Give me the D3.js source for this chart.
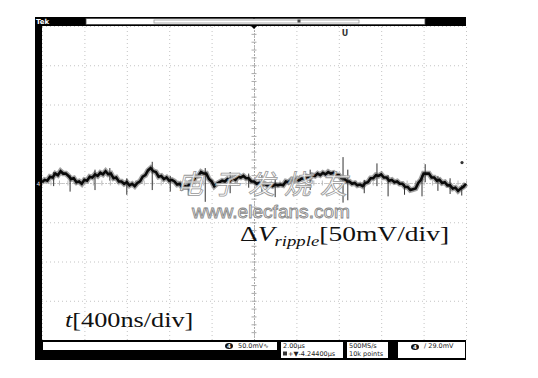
<!DOCTYPE html>
<html>
<head>
<meta charset="utf-8">
<script src="https://cdn.jsdelivr.net/npm/d3@7/dist/d3.min.js"></script>
<style>
body{margin:0;background:#fff;}
svg{display:block;}
</style>
</head>
<body>
<script>
// ripple trace in mV, one sample every 25 ns
const sampleStep = 25;
const rippleMv = [
   1,  4,  3,  8,  7, 12, 10, 15, 12, 12,
   9,  5,  6,  1,  2, -1,  4,  3,  8,  7,
  11,  9, 13, 11, 15, 11, 12,  6,  7,  2,
   2, -1,  1, -3, -1, -4,  0,  2,  8, 10,
  16, 19, 15, 14,  8,  9,  5,  7,  3,  4,
   2, -2, -1, -6, -4, -5,  1,  2,  8,  9,
  14, 12, 12,  5,  2, -4, -1,  1,  3,  2,
   5,  3,  6,  4,  8,  7,  9,  6,  6,  2,
   2, -1,  0, -2, -1, -3, -2, -4, -2, -3,
  -2, -3,  2,  1,  4,  3,  5,  3,  6,  5,
   8,  6, 10,  9, 12, 10, 13, 11, 14, 12,
  13, 10, 10,  6,  6,  2,  2, -1,  0, -3,
  -2, -4,  0,  1,  6,  6, 10,  9, 11,  7,
   7,  3,  4,  1,  2, -1, -1, -5, -5, -9,
  -8, -7,  0,  4, 12, 12, 12,  7,  7,  3,
   4,  0,  1, -3, -3, -7, -6,-10, -7, -5,
  -1
];

// noise spikes: time (ns), top and bottom (mV)
const spikeT  = [110, 265, 500, 640, 800, 1040, 1210, 1380, 1540, 1775, 1950, 2075, 2200, 2530, 2840, 2885, 3040, 3160, 3265, 3420, 3585, 3615, 3735, 3850, 3960];
const spikeHi = [ 14,  10,  17,  19,   6,   27,    9,    2,   19,   14,   12,   10,    6,   17,   33,   17,    4,   25,   10,   -1,   10,   24,    9,    6,   -3];
const spikeLo = [ -4, -11,  -9,   3, -15,   -9,  -11,  -16,  -24,  -13,   -6,  -14,  -18,   -9,  -25,  -22,  -13,   -4,  -17,  -15,  -17,    1,  -10,  -14,  -16];

// divisions: 400 ns/div, 50 mV/div
const timeDivs = [0, 400, 800, 1200, 1600, 2000, 2400, 2800, 3200, 3600, 4000];
const voltDivs = [-200, -150, -100, -50, 0, 50, 100, 150, 200];

const statusText = ["50.0mV", "2.00\u00b5s", "+\u25bc-4.24400\u00b5s", "500MS/s", "10k points", "29.0mV"];

let width = 538, height = 378;
let pLeft = 42, pRight = 466, pTop = 26, pBottom = 340;

let x = d3.scaleLinear().domain([0, 4000]).range([pLeft, pRight]);
let y = d3.scaleLinear().domain([-200, 200]).range([pBottom, pTop]);

const svg = d3.select("body")
        .append("svg")
        .attr("width", width)
        .attr("height", height);

svg.append("rect").attr("width", width).attr("height", height).attr("fill", "#fff");

// dotted graticule
svg.append("g")
        .attr("transform", `translate(0,${pBottom})`)
        .call(d3.axisBottom(x).tickValues(timeDivs).tickSize(-(pBottom - pTop)).tickFormat(""))
        .call(g => g.select(".domain").remove())
        .selectAll("line")
        .attr("stroke", "#c4c4c4")
        .attr("stroke-dasharray", "1,3");

svg.append("g")
        .attr("transform", `translate(${pLeft},0)`)
        .call(d3.axisLeft(y).tickValues(voltDivs).tickSize(-(pRight - pLeft)).tickFormat(""))
        .call(g => g.select(".domain").remove())
        .selectAll("line")
        .attr("stroke", "#c4c4c4")
        .attr("stroke-dasharray", "1,3");

// centre cross with minor ticks
let minorT = d3.range(0, 4001, 80), minorV = d3.range(-200, 201, 10);
[d3.axisLeft, d3.axisRight].forEach(ax => {
        svg.append("g")
                .attr("transform", `translate(${x(2000)},0)`)
                .call(ax(y).tickValues(minorV).tickSize(2.5).tickSizeOuter(0).tickFormat(""))
                .call(g => g.select(".domain").attr("stroke", "#999").attr("stroke-dasharray", "1,2"))
                .selectAll("line").attr("stroke", "#aaa");
});
[d3.axisTop, d3.axisBottom].forEach(ax => {
        svg.append("g")
                .attr("transform", `translate(0,${y(0)})`)
                .call(ax(x).tickValues(minorT).tickSize(2.5).tickSizeOuter(0).tickFormat(""))
                .call(g => g.select(".domain").attr("stroke", "#bbb").attr("stroke-dasharray", "1,2"))
                .selectAll("line").attr("stroke", "#bbb");
});

// trace
let line = d3.line()
        .x((d, i) => x(i * sampleStep))
        .y(d => y(d));

svg.append("path")
        .datum(rippleMv)
        .attr("d", line)
        .attr("fill", "none")
        .attr("stroke", "#666")
        .attr("stroke-opacity", 0.6)
        .attr("stroke-width", 5.5);

svg.selectAll(".spike")
        .data(spikeT)
        .enter()
        .append("line")
        .attr("class", "spike")
        .attr("x1", d => x(d)).attr("x2", d => x(d))
        .attr("y1", (d, i) => y(spikeHi[i]))
        .attr("y2", (d, i) => y(spikeLo[i]))
        .attr("stroke", "#333")
        .attr("stroke-width", 1);

svg.append("path")
        .datum(rippleMv)
        .attr("d", line)
        .attr("fill", "none")
        .attr("stroke", "#0a0a0a")
        .attr("stroke-width", 2.6);

// watermark
svg.append("text")
        .attr("x", 176).attr("y", 194)
        .style("font-family", "'Noto Sans CJK SC'")
        .style("font-size", "27px")
        .style("font-style", "italic")
        .attr("letter-spacing", 9)
        .attr("fill", "#fff")
        .attr("fill-opacity", 0.85)
        .attr("stroke", "#999")
        .attr("stroke-width", 0.8)
        .text("电子发烧友");

svg.append("text")
        .attr("x", 192).attr("y", 218)
        .attr("textLength", 158)
        .attr("lengthAdjust", "spacingAndGlyphs")
        .style("font-family", "'Liberation Sans'")
        .style("font-size", "19px")
        .attr("fill", "#fff")
        .attr("stroke", "#888")
        .attr("stroke-width", 0.9)
        .text("www.elecfans.com");

// annotations (picture is stretched sideways)
let vLabel = svg.append("text")
        .attr("transform", "translate(240,241) scale(1.25,1)")
        .style("font-family", "'Liberation Serif'")
        .attr("fill", "#111");
vLabel.append("tspan").style("font-size", "22px").text("\u0394");
vLabel.append("tspan").style("font-size", "22px").style("font-style", "italic").text("V");
vLabel.append("tspan").style("font-size", "15px").style("font-style", "italic").attr("dy", 5).text("ripple");
vLabel.append("tspan").style("font-size", "22px").attr("dy", -5).text("[50mV/div]");

let tLabel = svg.append("text")
        .attr("transform", "translate(65,327) scale(1.25,1)")
        .style("font-family", "'Liberation Serif'")
        .style("font-size", "21px")
        .attr("fill", "#111");
tLabel.append("tspan").style("font-style", "italic").text("t");
tLabel.append("tspan").text("[400ns/div]");

// scope frame
svg.append("rect").attr("x", 35).attr("y", 17).attr("width", pRight - 35).attr("height", pTop - 17).attr("fill", "#000");
svg.append("rect").attr("x", 35).attr("y", 17).attr("width", pLeft - 35).attr("height", 360 - 17).attr("fill", "#000");
svg.append("rect").attr("x", 35).attr("y", pBottom).attr("width", pRight - 35).attr("height", 20).attr("fill", "#000");

svg.append("text").attr("x", 36).attr("y", 24)
        .style("font-family", "'DejaVu Sans'").style("font-size", "7px").style("font-weight", "bold")
        .attr("fill", "#fff").text("Tek");

// record view bar
svg.append("rect").attr("x", 86).attr("y", 18.5).attr("width", 339).attr("height", 6)
        .attr("fill", "#fff").attr("stroke", "#444").attr("stroke-width", 0.8);
svg.append("rect").attr("x", 154).attr("y", 20).attr("width", 205).attr("height", 3)
        .attr("fill", "none").attr("stroke", "#999").attr("stroke-width", 0.8);
svg.append("rect").attr("x", 297.5).attr("y", 19.5).attr("width", 3).attr("height", 3).attr("fill", "#444");
svg.append("path").attr("d", `M${x(2000) - 3},${pTop} L${x(2000) + 3},${pTop} L${x(2000)},${pTop + 3} Z`).attr("fill", "#000");
svg.append("path").attr("d", `M${x(2000) - 1.5},17 L${x(2000) + 1.5},17 L${x(2000)},19 Z`).attr("fill", "#000");
svg.append("text").attr("x", 345).attr("y", 36).attr("text-anchor", "middle")
        .style("font-family", "'DejaVu Sans'").style("font-size", "8px").style("font-weight", "bold")
        .attr("fill", "#333").text("U");

// ground and trigger level markers
svg.append("text").attr("x", 38.5).attr("y", y(0) + 2.5).attr("text-anchor", "middle")
        .style("font-family", "'DejaVu Sans'").style("font-size", "6px").attr("fill", "#ddd").text("4");
svg.append("circle").attr("cx", 462).attr("cy", y(26)).attr("r", 1.6).attr("fill", "#333");

// status readout boxes
let boxes = [[43, 342, 234, 8], [281, 342, 62, 16], [347, 342, 41, 16], [398, 342, 67, 16]];
svg.selectAll(".sbox")
        .data(boxes)
        .enter()
        .append("rect")
        .attr("class", "sbox")
        .attr("x", d => d[0]).attr("y", d => d[1])
        .attr("width", d => d[2]).attr("height", d => d[3])
        .attr("fill", "#fff");

let small = (tx, ty, s) => svg.append("text").attr("x", tx).attr("y", ty)
        .style("font-family", "'DejaVu Sans'").style("font-size", "6.5px")
        .attr("fill", "#222").text(s);

[[229, 346], [415, 347]].forEach(([cx, cy]) => {
        svg.append("ellipse").attr("cx", cx).attr("cy", cy).attr("rx", 4).attr("ry", 3).attr("fill", "#111");
        svg.append("text").attr("x", cx).attr("y", cy + 2).attr("text-anchor", "middle")
                .style("font-family", "'DejaVu Sans'").style("font-size", "5.5px").style("font-weight", "bold")
                .attr("fill", "#fff").text("4");
});
small(238, 348, statusText[0] + "\u223f");
small(283, 348, statusText[1]);
svg.append("rect").attr("x", 283).attr("y", 351.5).attr("width", 4).attr("height", 4).attr("fill", "#333");
small(288, 356, statusText[2]);
small(349, 348, statusText[3]);
small(349, 356, statusText[4]);
small(424, 348, "\u2215 " + statusText[5]);
</script>
</body>
</html>
